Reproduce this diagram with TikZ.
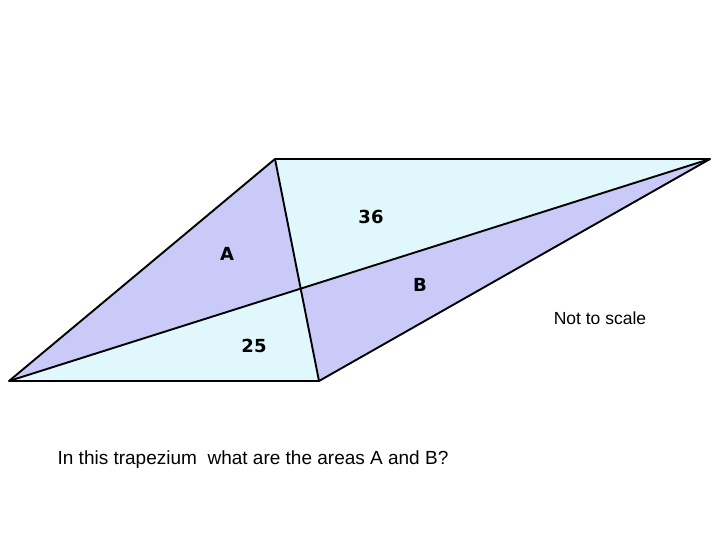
\documentclass[tikz,border=0pt]{standalone}
\usepackage{fontspec}
\setmainfont{Liberation Sans}
\newfontfamily\lblfont{DejaVu Sans}
\usetikzlibrary{calc,intersections}
\definecolor{paleCyan}{HTML}{E0F8FC}
\definecolor{lavender2}{HTML}{CACAF8}
\begin{document}
\begin{tikzpicture}[x=1pt,y=-1pt,
  edge/.style={draw=black,line width=1.9pt,line join=round},
  area/.style={font=\lblfont\bfseries\fontsize{18}{22}\selectfont,inner sep=0pt},
  note/.style={font=\fontsize{17.5}{20}\selectfont,inner sep=0pt}]
\useasboundingbox (0,0) rectangle (720,540);
\coordinate (TL) at (275,159);
\coordinate (TR) at (710,159);
\coordinate (BR) at (319,381);
\coordinate (BL) at (9,381);
\path[name path=d1] (BL) -- (TR);
\path[name path=d2] (TL) -- (BR);
\path[name intersections={of=d1 and d2,by=O}];
\fill[lavender2] (BL) -- (TL) -- (O) -- cycle;
\fill[lavender2] (TR) -- (BR) -- (O) -- cycle;
\fill[paleCyan] (TL) -- (TR) -- (O) -- cycle;
\fill[paleCyan] (BL) -- (BR) -- (O) -- cycle;
\draw[edge] (BL) -- (TL) -- (TR) -- (BR) -- cycle;
\draw[edge] (BL) -- (TR);
\draw[edge] (TL) -- (BR);
\node[area] (n36) at (371,217) {36};
\node[area] (nA) at (227,254) {A};
\node[area] (nB) at (420,285) {B};
\node[area] (n25) at (254,346) {25};
\node[note] (nts) at (600,318) {Not to scale};
\node[font=\fontsize{19}{22}\selectfont,inner sep=0pt] (cap) at (253,460) {In this trapezium\ \ what are the areas A and B?};
\end{tikzpicture}
\end{document}
